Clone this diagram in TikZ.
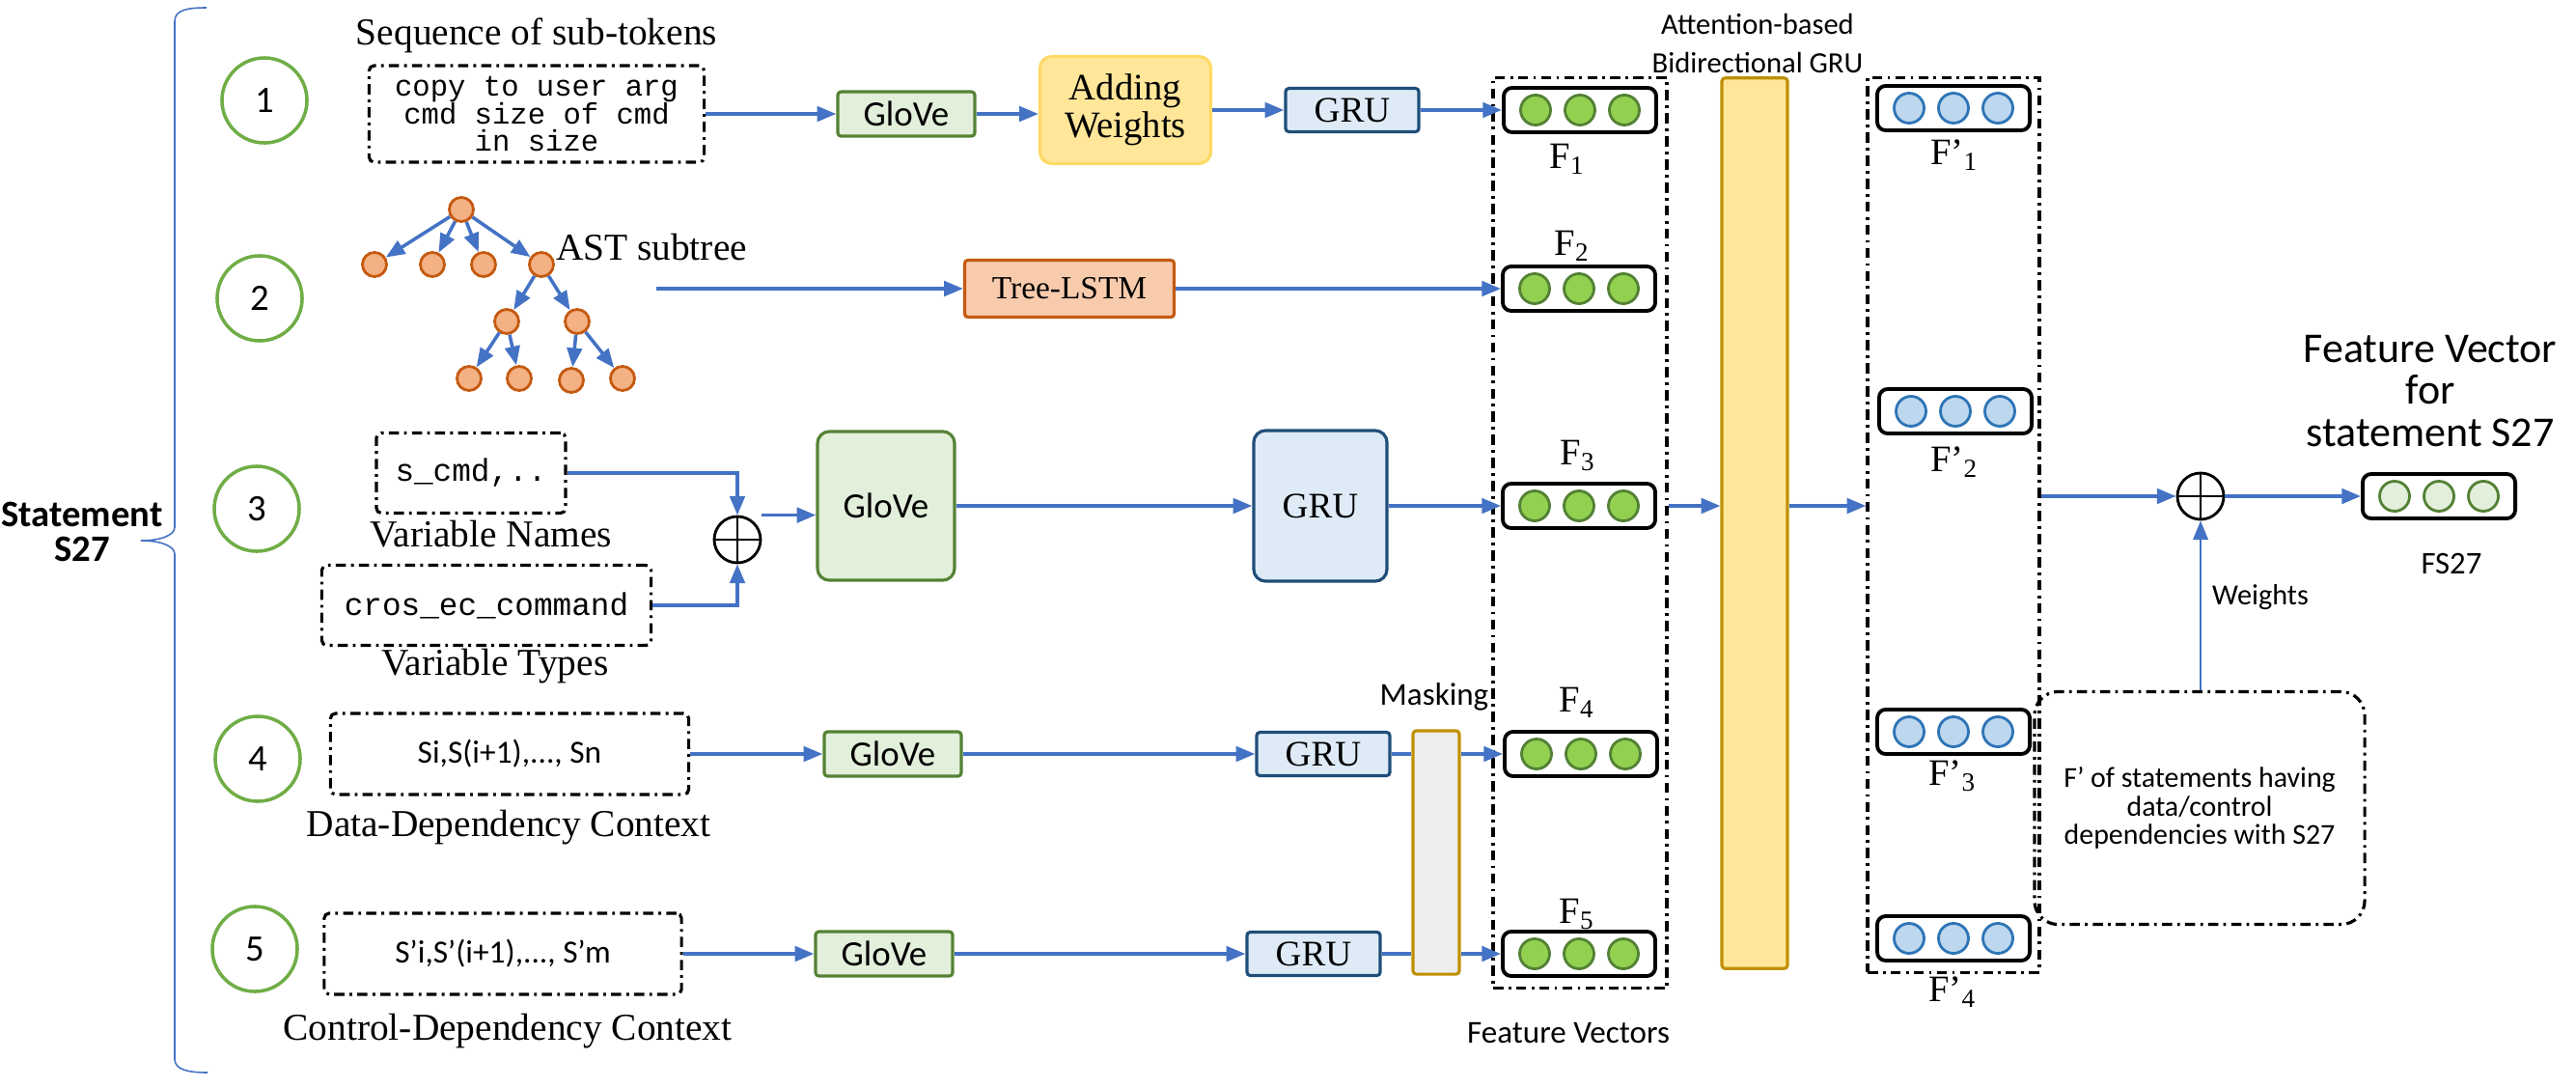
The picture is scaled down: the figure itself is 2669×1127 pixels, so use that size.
\documentclass[tikz,border=0pt]{standalone}
\usepackage{fontspec}
\setmainfont{Liberation Serif}
\setsansfont{Carlito}
\setmonofont{Liberation Mono}
\usetikzlibrary{calc,arrows.meta,positioning}
\definecolor{arrowblue}{HTML}{4472C4}
\definecolor{numgreen}{HTML}{70AD47}
\definecolor{glovefill}{HTML}{E2EFDA}
\definecolor{glovedraw}{HTML}{548235}
\definecolor{grufill}{HTML}{DEEBF7}
\definecolor{grudraw}{HTML}{1F4E79}
\definecolor{addfill}{HTML}{FFE699}
\definecolor{adddraw}{HTML}{FFD966}
\definecolor{lstmfill}{HTML}{F8CBAD}
\definecolor{lstmdraw}{HTML}{C55A11}
\definecolor{treefill}{HTML}{F4B183}
\definecolor{vecgreen}{HTML}{92D050}
\definecolor{dotgreen}{HTML}{538135}
\definecolor{vecblue}{HTML}{BDD7EE}
\definecolor{dotblue}{HTML}{2E75B6}
\definecolor{golddraw}{HTML}{BF9000}
\definecolor{maskfill}{HTML}{EDEDED}
\tikzstyle{numcirc} = [draw=numgreen, shape=circle, line width=1pt, minimum size=.88cm, inner sep=0pt, font=\sffamily\fontsize{11}{11}\selectfont]
\tikzstyle{dbox} = [draw, dash pattern=on 3pt off 1.5pt on .8pt off 1.5pt, line width=.9pt, inner sep=0pt]
\tikzstyle{textbox} = [dbox, rounded corners=1.5pt, align=center]
\tikzstyle{glove} = [draw=glovedraw, fill=glovefill, line width=.9pt, rounded corners=1pt, minimum width=1.42cm, minimum height=.46cm, inner sep=0pt, font=\sffamily\fontsize{10.5}{10.5}\selectfont]
\tikzstyle{gru} = [draw=grudraw, fill=grufill, line width=.9pt, rounded corners=1pt, minimum width=1.38cm, minimum height=.45cm, inner sep=0pt, font=\fontsize{10.6}{10.6}\selectfont]
\tikzstyle{addw} = [draw=adddraw, fill=addfill, line width=.9pt, rounded corners=3.5pt, minimum width=1.77cm, minimum height=1.11cm, inner sep=0pt, align=center, font=\fontsize{11}{9.4}\selectfont]
\tikzstyle{tlstm} = [draw=lstmdraw, fill=lstmfill, line width=.9pt, rounded corners=1pt, minimum width=2.17cm, minimum height=.59cm, inner sep=0pt, font=\fontsize{9.5}{9.5}\selectfont]
\tikzstyle{leaf} = [draw=lstmdraw, fill=treefill, shape=circle, line width=.8pt, minimum size=.25cm, inner sep=0pt]
\tikzstyle{vec} = [draw, line width=1.1pt, rounded corners=2.5pt, minimum width=1.58cm, minimum height=.46cm, inner sep=0pt]
\tikzstyle{gdot} = [draw=dotgreen, fill=vecgreen, shape=circle, line width=.8pt, minimum size=.31cm, inner sep=0pt]
\tikzstyle{bdot} = [draw=dotblue, fill=vecblue, shape=circle, line width=.8pt, minimum size=.31cm, inner sep=0pt]
\tikzstyle{ldot} = [draw=dotgreen, fill=glovefill, shape=circle, line width=.8pt, minimum size=.31cm, inner sep=0pt]
\tikzstyle{opl} = [draw, shape=circle, line width=.8pt, minimum size=.48cm, inner sep=0pt]
\tikzstyle{attbar} = [draw=golddraw, fill=addfill, line width=.9pt, rounded corners=1pt, minimum width=.68cm, minimum height=9.22cm, inner sep=0pt]
\tikzstyle{maskbar} = [draw=golddraw, fill=maskfill, line width=.9pt, rounded corners=1pt, minimum width=.48cm, minimum height=2.52cm, inner sep=0pt]
\tikzstyle{lab} = [inner sep=0pt, font=\fontsize{11.2}{11.2}\selectfont]
\tikzstyle{flab} = [inner sep=0pt, font=\fontsize{11}{11}\selectfont]
\tikzstyle{sflab} = [inner sep=0pt, align=center, font=\sffamily\fontsize{9.4}{9.4}\selectfont]
\tikzstyle{link} = [->, draw=arrowblue, line width=1pt]

\begin{document}
\begin{tikzpicture}[x=.01cm, y=-.01cm, >={Triangle[length=5.6pt,width=4.4pt]}]
    \useasboundingbox (0,0) rectangle (2669,1127);
    \draw [arrowblue, line width=.45pt] (214,8) .. controls (195,8) and (181,10) .. (181,22) -- (181,546) .. controls (181,555) and (165,560) .. (146,560) .. controls (165,560) and (181,565) .. (181,574) -- (181,1097) .. controls (181,1108) and (195,1111) .. (215,1111);
    \draw (85,551) node[sflab, font=\sffamily\bfseries\fontsize{11}{10.2}\selectfont] (stmt) {Statement\\S27};
    \draw (274,104) node[numcirc] (n1) {1};
    \draw (269,309) node[numcirc] (n2) {2};
    \draw (266,527) node[numcirc] (n3) {3};
    \draw (267,786) node[numcirc] (n4) {4};
    \draw (264,983) node[numcirc] (n5) {5};

    \draw (556,37) node[lab] (seqlab) {Sequence of sub-tokens};
    \draw (556,118) node[textbox, minimum width=3.47cm, minimum height=1cm, font=\ttfamily\fontsize{8.7}{8.2}\selectfont] (tok) {copy to user arg\\cmd size of cmd\\in size};
    \draw (939,118) node[glove] (glove1) {GloVe};
    \draw (1166,114) node[addw] (addw) {Adding\\Weights};
    \draw (1401,114) node[gru] (gru1) {GRU};
    \draw [link] (tok) -- (glove1);
    \draw [link] (glove1.east) -- (addw.west |- glove1.east);
    \draw [link] (addw) -- (gru1);

    \draw (478,217) node[leaf] (t0) {};
    \foreach \n/\x/\y in {t1/388/274, t2/448/274, t3/501/274, t4/561/274, t5/525/333, t6/598/333, t7/486/392, t8/538/392, t9/592/394, t10/645/392}
        \draw (\x,\y) node[leaf] (\n) {};
    \foreach \a/\b in {t0/t1, t0/t2, t0/t3, t0/t4, t4/t5, t4/t6, t5/t7, t5/t8, t6/t9, t6/t10}
        \draw [link] (\a) -- (\b);
    \draw (675,256) node[lab] (astlab) {AST subtree};
    \coordinate (astout) at (680,299);
    \draw (1108,299) node[tlstm] (tlstm) {Tree-LSTM};
    \draw [link] (astout) -- (tlstm);

    \draw (488,490) node[textbox, minimum width=1.96cm, minimum height=.83cm, font=\ttfamily\fontsize{9.3}{9.3}\selectfont] (names) {s\_cmd,..};
    \draw (509,553) node[lab] (nameslab) {Variable Names};
    \draw (504,627) node[textbox, minimum width=3.41cm, minimum height=.83cm, font=\ttfamily\fontsize{9.3}{9.3}\selectfont] (types) {cros\_ec\_command};
    \draw (513,690) node[lab] (typeslab) {Variable Types};
    \draw (764,559) node[opl] (op1) {};
    \draw [line width=.8pt] (op1.north) -- (op1.south) (op1.west) -- (op1.east);
    \draw [link] (names.east) -| (op1.north);
    \draw [link] (types.east) -| (op1.south);
    \draw (918,524) node[glove, minimum height=1.54cm, rounded corners=3.5pt] (glove3) {GloVe};
    \draw (1368,524) node[gru, minimum height=1.56cm, rounded corners=3.5pt] (gru3) {GRU};
    \draw [link] (op1.north -| op1.east) -- (op1.north -| glove3.west);
    \draw [link] (glove3) -- (gru3);

    \draw (528,781) node[textbox, minimum width=3.71cm, minimum height=.84cm, font=\sffamily\fontsize{9.5}{9.5}\selectfont] (dd) {Si,S(i+1),..., Sn};
    \draw (527,857) node[lab] (ddlab) {Data-Dependency Context};
    \draw (925,781) node[glove] (glove4) {GloVe};
    \draw (1371,781) node[gru] (gru4) {GRU};
    \draw [link] (dd) -- (glove4);
    \draw [link] (glove4) -- (gru4);

    \draw (521,988) node[textbox, minimum width=3.7cm, minimum height=.84cm, font=\sffamily\fontsize{9.5}{9.5}\selectfont] (cd) {S’i,S’(i+1),..., S’m};
    \draw (526,1068) node[lab] (cdlab) {Control-Dependency Context};
    \draw (916,988) node[glove] (glove5) {GloVe};
    \draw (1361,988) node[gru] (gru5) {GRU};
    \draw [link] (cd) -- (glove5);
    \draw [link] (glove5) -- (gru5);

    \draw (1488,883) node[maskbar] (mask) {};
    \draw (1486,722) node[sflab] (masklab) {Masking};

    \draw (1637,552) node[dbox, minimum width=1.8cm, minimum height=9.43cm] (fvbox) {};
    \draw (1625,1070) node[sflab] (fvlab) {Feature Vectors};
    \foreach \n/\x/\y in {F1/1637/114, F2/1636/299, F3/1636/524, F4/1638/781, F5/1636/988} {
        \draw (\x,\y) node[vec] (\n) {};
        \foreach \d/\k in {-46/a, 0/b, 46/c}
            \draw (\x+\d,\y) node[gdot] (\n\k) {};
    }
    \draw (1624,165) node[flab] (lF1) {F\textsubscript{1}};
    \draw (1629,255) node[flab] (lF2) {F\textsubscript{2}};
    \draw (1635,472) node[flab] (lF3) {F\textsubscript{3}};
    \draw (1634,728) node[flab] (lF4) {F\textsubscript{4}};
    \draw (1634,947) node[flab] (lF5) {F\textsubscript{5}};
    \draw [link] (gru1) -- (F1);
    \draw [link] (tlstm) -- (F2);
    \draw [link] (gru3) -- (F3);
    \draw [arrowblue, line width=1pt] (gru4) -- (mask.west |- gru4);
    \draw [link] (mask.east |- gru4) -- (F4);
    \draw [arrowblue, line width=1pt] (gru5) -- (mask.west |- gru5);
    \draw [link] (mask.east |- gru5) -- (F5);

    \draw (1818,542) node[attbar] (att) {};
    \draw (1821,45) node[sflab, font=\sffamily\fontsize{8.7}{11.4}\selectfont] (attlab) {Attention-based\\Bidirectional GRU};
    \draw (2024,544) node[dbox, minimum width=1.78cm, minimum height=9.26cm] (rbox) {};
    \foreach \n/\x/\y in {Fp1/2024/112, Fp2/2026/426, Fp3/2024/758, Fp4/2024/972} {
        \draw (\x,\y) node[vec] (\n) {};
        \foreach \d/\k in {-46/a, 0/b, 46/c}
            \draw (\x+\d,\y) node[bdot] (\n\k) {};
    }
    \draw (2025,161) node[flab] (lFp1) {F’\textsubscript{1}};
    \draw (2025,479) node[flab] (lFp2) {F’\textsubscript{2}};
    \draw (2023,804) node[flab] (lFp3) {F’\textsubscript{3}};
    \draw (2023,1028) node[flab] (lFp4) {F’\textsubscript{4}};
    \draw [link] (fvbox.east |- F3) -- (att.west |- F3);
    \draw [link] (att.east |- F3) -- (rbox.west |- F3);

    \draw (2279,837) node[textbox, rounded corners=7pt, minimum width=3.42cm, minimum height=2.41cm, font=\sffamily\fontsize{8.5}{8.3}\selectfont] (fstmt) {F’ of statements having\\data/control\\dependencies with S27};
    \draw (2280,514) node[opl] (op2) {};
    \draw [line width=.8pt] (op2.north) -- (op2.south) (op2.west) -- (op2.east);
    \draw (2527,514) node[vec] (FS) {};
    \foreach \d/\k in {-46/a, 0/b, 46/c}
        \draw (2527+\d,514) node[ldot] (FS\k) {};
    \draw [link] (rbox.east |- op2) -- (op2);
    \draw [link] (op2) -- (FS);
    \draw [link, line width=.7pt] (fstmt.north -| op2) -- (op2);
    \draw (2342,619) node[sflab, font=\sffamily\fontsize{8.6}{8.6}\selectfont] (wlab) {Weights};
    \draw (2518,405) node[sflab, font=\sffamily\fontsize{12.5}{12.3}\selectfont] (fslab) {Feature Vector\\for\\statement S27};
    \draw (2540,584) node[sflab, font=\sffamily\fontsize{9.3}{9.3}\selectfont] (fsname) {FS27};
\end{tikzpicture}
\end{document}
